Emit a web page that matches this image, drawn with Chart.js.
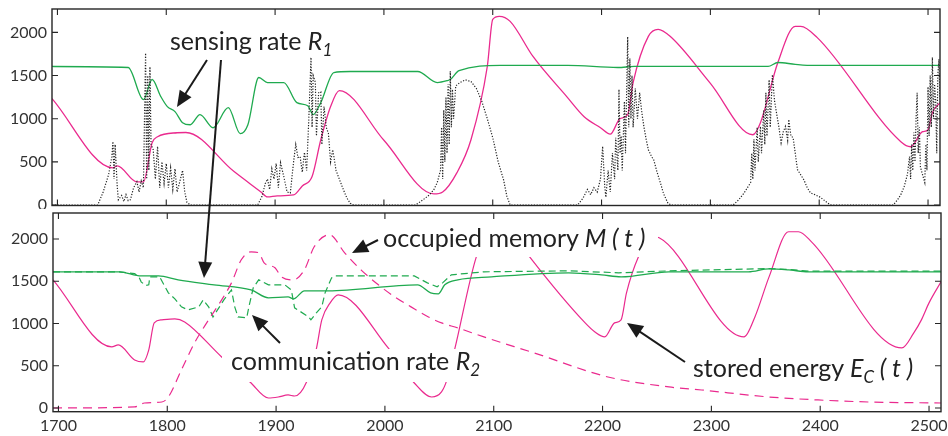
<!DOCTYPE html>
<html>
<head>
<meta charset="utf-8">
<script src="https://cdn.jsdelivr.net/npm/chart.js@4/dist/chart.umd.min.js"></script>
<style>
  html, body { margin: 0; padding: 0; background: #fff; }
  #wrap { position: relative; width: 948px; height: 436px; overflow: hidden; }
  #topChart { position: absolute; left: 0; top: 0; }
  #bottomChart { position: absolute; left: 0; top: 209px; }
  #notes { position: absolute; left: 0; top: 0; }
  #notes text { font-family: Lato, "Open Sans", sans-serif; fill: #222; }
</style>
</head>
<body>
<div id="wrap">
  <canvas id="topChart" width="948" height="209"></canvas>
  <canvas id="bottomChart" width="948" height="227"></canvas>
  <svg id="notes" width="948" height="436"></svg>
</div>
<script>
// ---- data (time, value) ----
const xTicks = [1700, 1800, 1900, 2000, 2100, 2200, 2300, 2400, 2500];
const yTicks = [0, 500, 1000, 1500, 2000];

// top panel: stored energy (magenta)
const energyTop = [
  [1695,1233],[1751,430],[1755,454],[1773,268],[1779,268],[1787,721],[1792,791],[1810,837],
  [1818,840],[1862,390],[1887,151],[1893,93],[1902,105],[1917,116],[1925,220],[1934,330],
  [1942,756],[1951,1140],[1959,1326],[2000,750],[2046,128],[2054,151],[2067,372],[2080,756],
  [2095,1605],[2100,2150],[2106,2186],[2116,2128],[2137,1721],[2168,1256],[2184,1023],
  [2199,895],[2208,820],[2217,1000],[2224,1047],[2229,1419],[2243,1954],[2252,2035],
  [2263,1954],[2300,1410],[2339,814],[2346,954],[2362,1651],[2378,2070],[2383,2070],
  [2398,1942],[2475,733],[2484,675],[2495,849],[2500,872],[2504,1070],[2511,1186]
];
// top panel: sensing rate R1 (green)
const sensingTop = [
  [1695,1605],[1765,1593],[1779,1221],[1787,1454],[1795,1256],[1801,1140],[1808,1082],
  [1815,954],[1822,930],[1831,1047],[1843,895],[1857,1128],[1868,826],[1875,930],
  [1885,1477],[1893,1419],[1908,1419],[1920,1186],[1930,1150],[1935,1047],[1942,1186],
  [1954,1535],[1969,1547],[2031,1547],[2049,1419],[2058,1440],[2061,1454],[2069,1558],
  [2107,1617],[2169,1617],[2215,1593],[2230,1605],[2353,1605],[2362,1651],[2378,1630],
  [2395,1617],[2511,1617]
];
// top panel: harvested power (black dotted)
const harvestTop = [
  [1695,0],[1737,0],[1742,150],[1747,350],[1750,560],[1751,735],[1752,300],[1753,700],
  [1755,200],[1756,60],[1759,110],[1761,40],[1763,120],[1765,50],[1767,60],[1770,200],
  [1773,270],[1775,150],[1777,280],[1779,200],[1780,1000],[1781,1760],[1782,300],[1783,1500],
  [1784,400],[1785,1600],[1786,700],[1788,640],[1790,300],[1792,680],[1794,200],[1796,500],
  [1798,250],[1800,480],[1802,200],[1804,430],[1806,180],[1808,420],[1810,150],[1812,250],
  [1815,400],[1817,150],[1819,30],[1822,0],[1884,0],[1888,100],[1891,250],[1893,300],
  [1895,180],[1897,420],[1899,300],[1901,480],[1903,200],[1905,490],[1908,330],[1911,150],
  [1914,140],[1917,500],[1919,700],[1921,550],[1923,560],[1925,380],[1927,610],[1929,400],
  [1931,1000],[1933,1710],[1934,900],[1935,1500],[1937,1420],[1938,800],[1940,1300],
  [1942,1310],[1943,700],[1945,1140],[1947,900],[1949,830],[1951,500],[1953,640],[1956,400],
  [1959,300],[1963,170],[1966,80],[1969,20],[1972,0],[2029,0],[2036,60],[2042,120],
  [2046,180],[2049,260],[2052,400],[2053,900],[2054,300],[2055,1100],[2056,500],[2057,1250],
  [2058,600],[2059,1400],[2060,700],[2061,1550],[2062,900],[2063,1340],[2064,1000],
  [2066,1380],[2070,1420],[2075,1450],[2080,1430],[2085,1350],[2090,1200],[2095,1000],
  [2100,780],[2105,500],[2110,290],[2113,100],[2116,0],[2178,0],[2183,80],[2187,180],
  [2190,120],[2193,200],[2196,150],[2199,300],[2201,680],[2203,200],[2204,90],[2206,400],
  [2208,150],[2210,600],[2212,300],[2213,780],[2215,400],[2216,1340],[2217,600],[2218,800],
  [2219,400],[2221,1200],[2222,600],[2224,1950],[2225,900],[2226,1700],[2227,1000],
  [2228,1500],[2229,900],[2231,1350],[2233,1000],[2235,1300],[2237,1070],[2239,900],
  [2241,760],[2243,640],[2246,560],[2248,520],[2251,380],[2254,260],[2257,130],[2261,20],
  [2264,0],[2321,0],[2326,60],[2331,140],[2334,200],[2337,260],[2338,600],[2339,300],
  [2340,760],[2341,400],[2343,900],[2344,500],[2346,910],[2347,600],[2349,1100],[2350,700],
  [2351,1300],[2352,800],[2354,1450],[2355,900],[2357,1510],[2359,1200],[2361,1050],
  [2363,900],[2365,720],[2367,850],[2369,910],[2371,750],[2372,990],[2374,800],[2376,780],
  [2378,600],[2380,410],[2383,350],[2386,290],[2389,200],[2392,140],[2396,120],[2401,90],
  [2405,50],[2408,20],[2411,0],[2468,0],[2472,60],[2475,120],[2478,210],[2481,350],
  [2483,560],[2484,300],[2485,700],[2486,400],[2487,840],[2488,500],[2489,1000],[2490,1300],
  [2491,600],[2492,900],[2493,440],[2495,350],[2497,260],[2498,700],[2499,400],[2500,1370],
  [2501,800],[2502,1500],[2503,900],[2504,1710],[2505,1000],[2506,1400],[2507,1220],
  [2508,600],[2509,1500],[2510,1690],[2511,1200]
];

// bottom panel: stored energy E_C(t) (magenta solid)
const energyBottom = [
  [1695,1517],[1749,723],[1755,747],[1770,569],[1778,545],[1783,687],[1788,1007],[1795,1043],
  [1807,1055],[1816,1019],[1850,604],[1876,308],[1893,118],[1902,130],[1911,154],[1917,142],
  [1928,308],[1937,700],[1942,1043],[1950,1250],[1957,1339],[2003,711],[2027,296],[2043,130],
  [2052,190],[2057,332],[2064,687],[2084,1789],[2096,2100],[2106,2150],[2116,2090],
  [2133,1789],[2184,1007],[2193,900],[2202,841],[2211,1007],[2217,1043],[2222,1363],
  [2233,1789],[2245,2030],[2252,2015],[2330,841],[2340,1078],[2353,1552],[2371,2086],
  [2380,2086],[2392,1967],[2475,711],[2486,889],[2493,1043],[2500,1244],[2511,1493]
];
// bottom panel: sensing rate R1 (green solid)
const sensingBottom = [
  [1695,1612],[1756,1612],[1776,1564],[1792,1564],[1810,1517],[1843,1458],[1877,1398],
  [1893,1304],[1911,1315],[1916,1292],[1926,1387],[1948,1387],[2030,1458],[2042,1363],
  [2049,1351],[2055,1458],[2067,1517],[2098,1552],[2169,1600],[2199,1576],[2217,1552],
  [2261,1612],[2334,1612],[2353,1647],[2371,1635],[2389,1612],[2511,1612]
];
// bottom panel: communication rate R2 (green dashed)
const commBottom = [
  [1695,1612],[1756,1612],[1770,1590],[1774,1552],[1776,1493],[1780,1450],[1783,1458],
  [1784,1552],[1793,1552],[1797,1458],[1801,1363],[1807,1292],[1813,1197],[1819,1161],
  [1829,1197],[1833,1280],[1838,1197],[1842,1078],[1848,1197],[1852,1280],[1859,1398],
  [1862,1197],[1865,1078],[1873,1067],[1875,1197],[1879,1422],[1884,1517],[1893,1458],
  [1908,1458],[1914,1398],[1917,1185],[1930,1078],[1932,1043],[1937,1126],[1942,1197],
  [1945,1363],[1951,1540],[1954,1564],[2027,1564],[2039,1481],[2048,1434],[2053,1481],
  [2061,1576],[2091,1612],[2169,1623],[2215,1600],[2261,1623],[2353,1650],[2371,1640],
  [2389,1620],[2511,1620]
];
// bottom panel: occupied memory M(t) (magenta dashed)
const memoryBottom = [
  [1695,0],[1770,12],[1779,59],[1795,71],[1801,130],[1813,450],[1825,770],[1838,1043],
  [1850,1280],[1859,1481],[1868,1754],[1877,1849],[1884,1837],[1889,1718],[1899,1659],
  [1905,1552],[1916,1517],[1926,1635],[1935,1908],[1949,2050],[1963,1837],[1978,1635],
  [1994,1458],[2009,1315],[2024,1197],[2040,1078],[2052,1007],[2067,948],[2091,841],
  [2137,652],[2205,367],[2261,249],[2291,213],[2353,130],[2398,95],[2444,71],[2511,59]
];

const MAGENTA = '#EA2A8E';
const GREEN = '#1FAA4F';
const FRAME = '#262626';

function toPoints(pairs) {
  return pairs.map(p => ({ x: p[0], y: p[1] }));
}

// frame + inward tick marks on all four sides
const framePlugin = {
  id: 'frame',
  afterDatasetsDraw(chart) {
    const { ctx, chartArea: a, scales } = chart;
    ctx.save();
    ctx.strokeStyle = FRAME;
    ctx.lineWidth = 1.4;
    ctx.strokeRect(a.left, a.top, a.right - a.left, a.bottom - a.top);
    ctx.lineWidth = 1.1;
    ctx.beginPath();
    yTicks.forEach(v => {
      const y = scales.y.getPixelForValue(v);
      ctx.moveTo(a.left, y); ctx.lineTo(a.left + 6, y);
      ctx.moveTo(a.right, y); ctx.lineTo(a.right - 6, y);
    });
    xTicks.forEach(v => {
      const x = scales.x.getPixelForValue(v);
      ctx.moveTo(x, a.top); ctx.lineTo(x, a.top + 6);
      ctx.moveTo(x, a.bottom); ctx.lineTo(x, a.bottom - 6);
    });
    ctx.stroke();
    ctx.restore();
  }
};

function makeChart(id, datasets, cfg) {
  return new Chart(document.getElementById(id), {
    type: 'line',
    data: { datasets },
    options: {
      responsive: false,
      animation: false,
      layout: { padding: cfg.padding },
      plugins: { legend: { display: false }, tooltip: { enabled: false } },
      elements: { point: { radius: 0 } },
      scales: {
        x: {
          type: 'linear', min: 1695, max: 2511,
          display: cfg.showX,
          grid: { display: false, drawTicks: false },
          border: { display: false },
          afterBuildTicks: s => { s.ticks = xTicks.map(v => ({ value: v })); },
          afterFit: s => { s.paddingLeft = 0; s.paddingRight = 0; if (cfg.showX) s.height = cfg.xHeight; },
          ticks: {
            color: '#333', padding: 5, maxRotation: 0,
            font: { family: 'Lato, "Open Sans", sans-serif', size: 16 },
            callback: v => String(v)
          }
        },
        y: {
          type: 'linear', min: cfg.yMin, max: cfg.yMax,
          grid: { display: false, drawTicks: false },
          border: { display: false },
          afterBuildTicks: s => { s.ticks = yTicks.map(v => ({ value: v })); },
          afterFit: s => { s.width = cfg.yWidth; s.paddingTop = 0; s.paddingBottom = 0; },
          ticks: {
            color: '#333', padding: 5,
            font: { family: 'Lato, "Open Sans", sans-serif', size: 16 },
            callback: v => String(v)
          }
        }
      }
    },
    plugins: [framePlugin]
  });
}

makeChart('topChart', [
  { data: toPoints(harvestTop), borderColor: '#222', borderWidth: 1.2, borderDash: [1.2, 1.6], tension: 0 },
  { data: toPoints(sensingTop), borderColor: GREEN, borderWidth: 1.3, cubicInterpolationMode: 'monotone' },
  { data: toPoints(energyTop), borderColor: MAGENTA, borderWidth: 1.3, cubicInterpolationMode: 'monotone' }
], { padding: { left: 0, right: 8, top: 9, bottom: 3.5 }, showX: false, yMin: -6, yMax: 2271, yWidth: 52 });

makeChart('bottomChart', [
  { data: toPoints(memoryBottom), borderColor: MAGENTA, borderWidth: 1.2, borderDash: [9, 6], cubicInterpolationMode: 'monotone' },
  { data: toPoints(commBottom), borderColor: GREEN, borderWidth: 1.2, borderDash: [7, 4], tension: 0 },
  { data: toPoints(sensingBottom), borderColor: GREEN, borderWidth: 1.3, cubicInterpolationMode: 'monotone' },
  { data: toPoints(energyBottom), borderColor: MAGENTA, borderWidth: 1.2, cubicInterpolationMode: 'monotone' }
], { padding: { left: 0, right: 7, top: 4, bottom: 0 }, showX: true, xHeight: 24.3, yMin: -44, yMax: 2308, yWidth: 53 });

// ---- annotations: white label boxes, arrows, texts ----
const NS = 'http://www.w3.org/2000/svg';
const svg = document.getElementById('notes');

function el(tag, attrs, parent) {
  const e = document.createElementNS(NS, tag);
  for (const k in attrs) e.setAttribute(k, attrs[k]);
  (parent || svg).appendChild(e);
  return e;
}

function arrow(x1, y1, x2, y2) {
  const dx = x2 - x1, dy = y2 - y1, len = Math.hypot(dx, dy);
  const ux = dx / len, uy = dy / len, head = 16, half = 7;
  const bx = x2 - ux * head, by = y2 - uy * head;
  el('line', { x1, y1, x2: bx + ux * 2, y2: by + uy * 2, stroke: '#1a1a1a', 'stroke-width': 2 });
  el('polygon', {
    points: `${x2},${y2} ${bx - uy * half},${by + ux * half} ${bx + uy * half},${by - ux * half}`,
    fill: '#1a1a1a'
  });
}

// parts: { text, italic, small, dy }
function label(x, y, parts) {
  const t = el('text', { x, y, 'font-size': 25 });
  parts.forEach(p => {
    const s = el('tspan', {}, t);
    if (p.italic) s.setAttribute('font-style', 'italic');
    if (p.small) s.setAttribute('font-size', 17);
    if (p.dy) s.setAttribute('dy', p.dy);
    s.textContent = p.text;
  });
  return t;
}

el('rect', { x: 222, y: 349, width: 268, height: 33, fill: '#fff' });
el('rect', { x: 380, y: 223, width: 278, height: 34, fill: '#fff' });
el('rect', { x: 688, y: 354, width: 230, height: 31, fill: '#fff' });

arrow(207, 60, 177, 107);
arrow(221, 60, 204, 278);
arrow(280, 343, 252, 315);
arrow(378, 240, 352, 253);
arrow(685, 362, 627, 323);

label(170, 50, [{ text: 'sensing rate ' }, { text: 'R', italic: true }, { text: '1', italic: true, small: true, dy: 6 }]);
label(231, 370, [{ text: 'communication rate ' }, { text: 'R', italic: true }, { text: '2', italic: true, small: true, dy: 6 }]);
label(383, 247, [{ text: 'occupied memory ' }, { text: 'M ( t )', italic: true }]);
label(693, 377, [{ text: 'stored energy ' }, { text: 'E', italic: true },
                 { text: 'C', italic: true, small: true, dy: 6 },
                 { text: ' ( t )', italic: true, dy: -6 }]);
</script>
</body>
</html>
